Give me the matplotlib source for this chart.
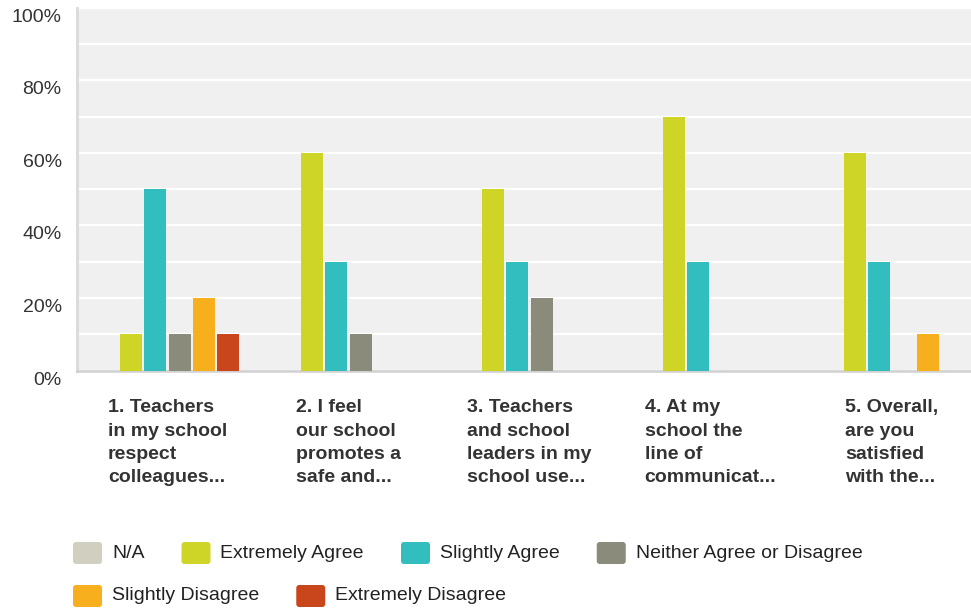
import matplotlib.pyplot as plt
import numpy as np
from matplotlib.patches import FancyBboxPatch
from matplotlib.transforms import IdentityTransform, ScaledTranslation

plt.rcParams["font.family"] = ["Liberation Sans", "DejaVu Sans"]

questions = [
    "1. Teachers\nin my school\nrespect\ncolleagues...",
    "2. I feel\nour school\npromotes a\nsafe and...",
    "3. Teachers\nand school\nleaders in my\nschool use...",
    "4. At my\nschool the\nline of\ncommunicat...",
    "5. Overall,\nare you\nsatisfied\nwith the...",
]
responses = [
    "N/A",
    "Extremely Agree",
    "Slightly Agree",
    "Neither Agree or Disagree",
    "Slightly Disagree",
    "Extremely Disagree",
]
colors = ["#d0cfc0", "#cfd527", "#32bdbf", "#8a8b7a", "#f7af1e", "#c9461d"]

# share of answers (%) per question
na = [0, 0, 0, 0, 0]
extremely_agree = [10, 60, 50, 70, 60]
slightly_agree = [50, 30, 30, 30, 30]
neither = [10, 10, 20, 0, 0]
slightly_disagree = [20, 0, 0, 0, 10]
extremely_disagree = [10, 0, 0, 0, 0]
series = [na, extremely_agree, slightly_agree, neither, slightly_disagree, extremely_disagree]

W, H = 971, 609
fig = plt.figure(figsize=(W / 100, H / 100), dpi=100)
# plot area runs a little past the right edge
ax = fig.add_axes([77 / W, 1 - 370.7 / H, 905 / W, 363 / H])
ax.set_facecolor("#f0f0f0")

x = np.arange(len(questions))
slot = 0.134
for k, (vals, col) in enumerate(zip(series, colors)):
    ax.bar(x + (k - 2.5) * slot, vals, width=0.1215, color=col, linewidth=0, zorder=3)

ax.set_xlim(-0.5, len(questions) - 0.5)
ax.set_ylim(0, 100)
ax.set_yticks(range(0, 101, 20))
ax.set_yticks(range(10, 100, 20), minor=True)
ax.set_yticklabels([f"{v}%" for v in range(0, 101, 20)])
ax.grid(axis="y", which="both", color="white", linewidth=1.6, zorder=1)
ax.set_axisbelow(True)

for side in ["top", "right"]:
    ax.spines[side].set_visible(False)
ax.spines["left"].set_color("#dcdcdc")
ax.spines["left"].set_linewidth(2.2)
ax.spines["bottom"].set_color("#d0d0d0")
ax.spines["bottom"].set_linewidth(1.8)

ax.tick_params(axis="y", which="both", length=0, pad=11, labelsize=14, labelcolor="#333333")
ax.tick_params(axis="x", length=0, pad=20.5)
ax.set_xticks(x)
ax.set_xticklabels(questions, fontsize=14, fontweight="bold", color="#333333", linespacing=1.49)
for lbl in ax.get_xticklabels():
    lbl.set_multialignment("left")

shift = ScaledTranslation(0, -0.075, fig.dpi_scale_trans)
for lbl in ax.get_yticklabels():
    lbl.set_transform(lbl.get_transform() + shift)

# legend laid out left to right, wrapping onto a second row
renderer = fig.canvas.get_renderer()
px = IdentityTransform()
sq_w, sq_h = 29, 22
lx, ly = 73, H - 553
for name, col in zip(responses, colors):
    t = fig.text(0, ly, name, fontsize=14, color="#222222", va="center", ha="left", transform=px)
    tw = t.get_window_extent(renderer=renderer).width
    if lx + sq_w + 10 + tw > 900:
        lx, ly = 73, ly - 43
    fig.patches.append(FancyBboxPatch((lx, ly - sq_h / 2), sq_w, sq_h,
                                      boxstyle="round,pad=0,rounding_size=3",
                                      facecolor=col, edgecolor="none", transform=px))
    t.set_position((lx + sq_w + 10, ly))
    lx += sq_w + 10 + tw + 37

fig.savefig("out.png", dpi=100)
